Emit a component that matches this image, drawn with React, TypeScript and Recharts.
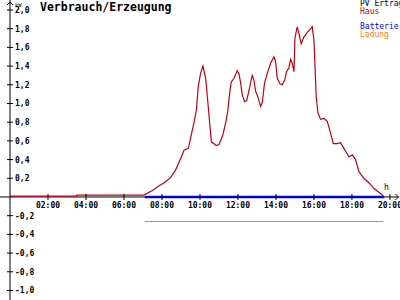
import React from "react";
import { LineChart, Line, XAxis, YAxis, ReferenceLine, ReferenceDot, Legend } from "recharts";

const hausHours = [
  0, 3.5, 3.52, 7.05, 7.5, 7.84, 8.1, 8.46, 8.72, 8.98,
  9.16, 9.39, 9.56, 9.68, 9.81, 9.91, 10.03, 10.16, 10.3, 10.42,
  10.53, 10.6, 10.86, 11.0, 11.2, 11.38, 11.47, 11.58, 11.65, 11.79,
  11.96, 12.05, 12.14, 12.23, 12.35, 12.46, 12.58, 12.75, 12.84, 12.93,
  13.05, 13.19, 13.28, 13.4, 13.54, 13.72, 13.89, 13.98, 14.07, 14.21,
  14.33, 14.46, 14.56, 14.68, 14.77, 14.86, 14.95, 15.0, 15.12, 15.21,
  15.33, 15.47, 15.65, 15.83, 15.91, 16.0, 16.05, 16.12, 16.21, 16.35,
  16.53, 16.7, 16.88, 17.02, 17.23, 17.4, 17.58, 17.84, 18.02, 18.19,
  18.37, 18.63, 18.9, 19.16, 19.42, 19.6, 19.7,
];
const hausValues = [
  0.01, 0.01, 0.02, 0.02, 0.07, 0.12, 0.15, 0.21, 0.29, 0.41,
  0.5, 0.52, 0.68, 0.79, 0.93, 1.18, 1.32, 1.4, 1.27, 1.0,
  0.75, 0.59, 0.55, 0.56, 0.66, 0.82, 0.93, 1.14, 1.23, 1.27,
  1.35, 1.32, 1.22, 1.09, 1.02, 1.03, 1.14, 1.3, 1.25, 1.13,
  1.07, 0.97, 1.01, 1.22, 1.32, 1.43, 1.5, 1.45, 1.27, 1.21,
  1.2, 1.25, 1.34, 1.38, 1.47, 1.43, 1.34, 1.7, 1.82, 1.75,
  1.64, 1.71, 1.76, 1.8, 1.82, 1.68, 1.43, 1.07, 0.9, 0.83,
  0.84, 0.81, 0.68, 0.57, 0.57, 0.58, 0.52, 0.43, 0.45, 0.4,
  0.27, 0.2, 0.15, 0.09, 0.05, 0.02, 0.0,
];
const batterieHours = [7.1, 19.7];
const batterieValues = [0, 0];
const ladungHours = [7.1, 19.65];
const ladungValues = [-0.262, -0.262];

const xTicks = [2, 4, 6, 8, 10, 12, 14, 16, 18, 20];
const xTickLabels = ["02:00", "04:00", "06:00", "08:00", "10:00", "12:00", "14:00", "16:00", "18:00", "20:00"];
const yTicks = [-1.0, -0.8, -0.6, -0.4, -0.2, 0.2, 0.4, 0.6, 0.8, 1.0, 1.2, 1.4, 1.6, 1.8, 2.0];

const legendItems = [
  { label: "PV Ertrag", color: "#000000" },
  { label: "Haus", color: "#c00000" },
  { label: "", color: "#000000" },
  { label: "Batterie", color: "#0000ff" },
  { label: "Ladung", color: "#ff8000" },
];

const title = "Verbrauch/Erzeugung";
const yUnit = "kW";
const xUnit = "h";

const X_MAX = 20.53;
const Y_MIN = -1.102;
const Y_MAX = 2.107;

const FONT = "'DejaVu Sans Mono', monospace";

const hausData = hausHours.map((h, i) => ({ h, v: hausValues[i] }));
const batterieData = batterieHours.map((h, i) => ({ h, v: batterieValues[i] }));
const ladungData = ladungHours.map((h, i) => ({ h, v: ladungValues[i] }));

const fmtY = (v: number) => v.toFixed(1).replace(".", ",");

const YTick = (props: any) => {
  const { x, y, payload } = props;
  return (
    <g>
      <line x1={x - 3} x2={x + 3} y1={y} y2={y} stroke="#000" strokeWidth={1} />
      <text x={x + 5} y={y + 3} fontFamily={FONT} fontSize={8} fontWeight="bold" fill="#000" textAnchor="start">
        {fmtY(payload.value)}
      </text>
    </g>
  );
};

const LegendContent = () => (
  <div style={{ fontFamily: FONT, fontSize: 8, lineHeight: "7.7px", whiteSpace: "nowrap" }}>
    {legendItems.map((it, i) => (
      <div key={i} style={{ color: it.color, height: 7.7 }}>{it.label || "\u00a0"}</div>
    ))}
  </div>
);

export default function App() {
  return (
    <div style={{ position: "absolute", left: 0, top: 0, width: 400, height: 300, background: "#fff", overflow: "hidden" }}>
      <LineChart width={400} height={300} margin={{ top: 0, right: 0, bottom: 0, left: 10 }}>
        <XAxis type="number" dataKey="h" domain={[0, X_MAX]} hide allowDataOverflow />
        <YAxis
          type="number"
          domain={[Y_MIN, Y_MAX]}
          ticks={yTicks}
          allowDataOverflow
          mirror
          tickSize={0}
          tickMargin={0}
          tickLine={false}
          axisLine={{ stroke: "#000", strokeWidth: 1 }}
          tick={<YTick />}
          interval={0}
        />
        <ReferenceLine
          segment={[{ x: -0.6, y: 0 }, { x: 20.45, y: 0 }]}
          stroke="#000"
          strokeWidth={1}
          ifOverflow="visible"
        />
        {xTicks.map((t, i) => (
          <ReferenceDot
            key={t}
            x={t}
            y={0}
            ifOverflow="visible"
            shape={(p: any) => (
              <g>
                <line x1={p.cx} x2={p.cx} y1={p.cy - 3} y2={p.cy + 3} stroke="#000" strokeWidth={1} />
                <text x={p.cx} y={p.cy + 11} fontFamily={FONT} fontSize={8} fontWeight="bold" fill="#000" textAnchor="middle">
                  {xTickLabels[i]}
                </text>
              </g>
            )}
          />
        ))}
        <ReferenceDot
          x={X_MAX - 0.08}
          y={0}
          ifOverflow="visible"
          shape={(p: any) => (
            <g>
              <polyline points={`${p.cx - 3},${p.cy - 3} ${p.cx},${p.cy} ${p.cx - 3},${p.cy + 3}`} fill="none" stroke="#000" strokeWidth={1} />
              <text x={p.cx - 12} y={p.cy - 7} fontFamily={FONT} fontSize={8} fill="#000" textAnchor="middle">{xUnit}</text>
            </g>
          )}
        />
        <ReferenceDot
          x={0}
          y={Y_MAX}
          ifOverflow="visible"
          shape={(p: any) => (
            <g>
              <polyline points={`${p.cx - 3},${p.cy + 5} ${p.cx},${p.cy + 2} ${p.cx + 3},${p.cy + 5}`} fill="none" stroke="#000" strokeWidth={1} />
              <text x={p.cx + 5} y={p.cy + 6.5} fontFamily={FONT} fontSize={5.5} fill="#000" textAnchor="start">{yUnit}</text>
            </g>
          )}
        />
        <Line data={ladungData} dataKey="v" name="Ladung" type="linear" stroke="#f08020" strokeWidth={1} dot={false} isAnimationActive={false} />
        <Line data={batterieData} dataKey="v" name="Batterie" type="linear" stroke="#0000e0" strokeWidth={2.5} dot={false} isAnimationActive={false} />
        <Line data={hausData} dataKey="v" name="Haus" type="linear" stroke="#c00010" strokeWidth={1.2} dot={false} isAnimationActive={false} />
        <Legend
          layout="horizontal"
          verticalAlign="middle"
          align="center"
          content={<LegendContent />}
          wrapperStyle={{ left: 360, top: 0, width: 60, height: 40 }}
        />
      </LineChart>
      <div style={{ position: "absolute", left: 40, top: 1, fontFamily: FONT, fontSize: 11.5, fontWeight: "bold", lineHeight: "13px", color: "#000", whiteSpace: "nowrap" }}>
        {title}
      </div>
    </div>
  );
}
